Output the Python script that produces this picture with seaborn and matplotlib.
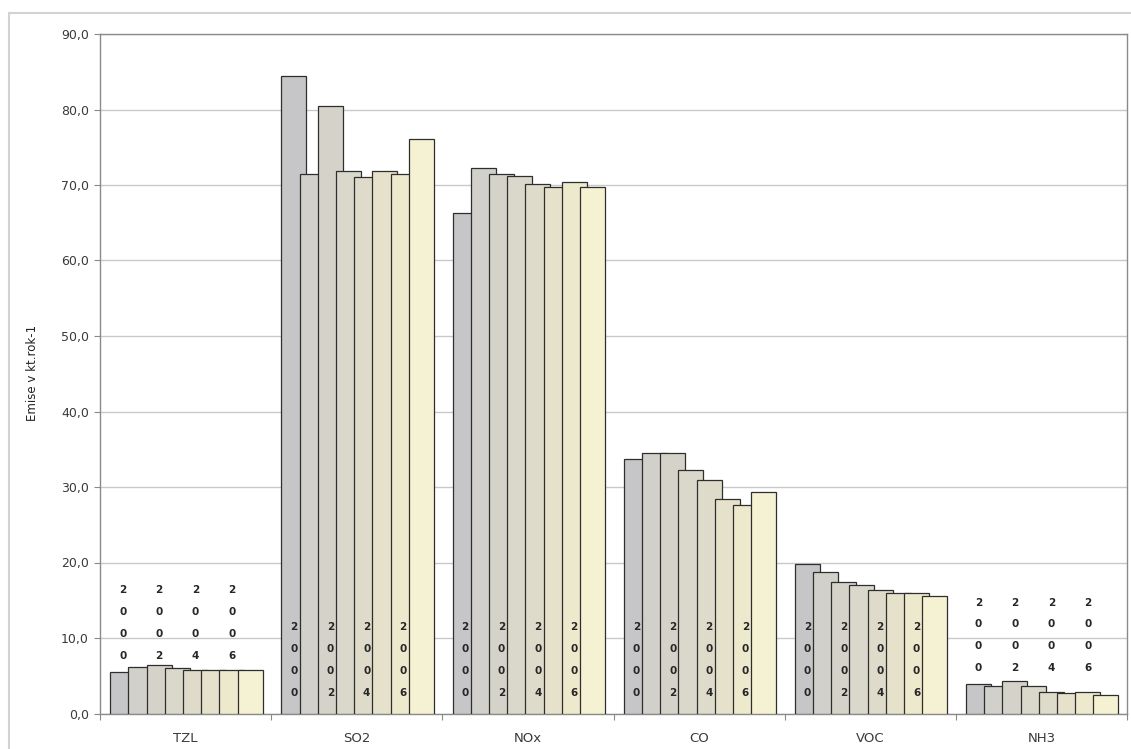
import numpy as np
import pandas as pd
import matplotlib
matplotlib.use("Agg")
import matplotlib.pyplot as plt
from matplotlib.lines import Line2D
import seaborn as sns

# Emissions by pollutant and year (kt per year)
pollutants = ["TZL", "SO2", "NOx", "CO", "VOC", "NH3"]
years = [2000, 2001, 2002, 2003, 2004, 2005, 2006, 2007]
tzl = [5.5, 6.1, 6.4, 6.0, 5.7, 5.8, 5.8, 5.8]
so2 = [84.4, 71.5, 80.5, 71.9, 71.1, 71.9, 71.5, 76.1]
nox = [66.3, 72.3, 71.5, 71.2, 70.1, 69.8, 70.4, 69.8]
co = [33.7, 34.5, 34.5, 32.3, 30.9, 28.4, 27.6, 29.4]
voc = [19.8, 18.8, 17.4, 17.0, 16.3, 16.0, 16.0, 15.6]
nh3 = [3.9, 3.6, 4.3, 3.6, 2.8, 2.7, 2.8, 2.5]
labelled_years = [2000, 2002, 2004, 2006]

year_colors = ["#c6c4c8", "#d3d1c9", "#d7d5c7", "#dcdac7",
               "#e1ddc7", "#e9e4c6", "#f2edc6", "#fbf7cd"]

series = [tzl, so2, nox, co, voc, nh3]
rows = []
for p, vals in zip(pollutants, series):
    for y, v in zip(years, vals):
        rows.append({"pollutant": p, "year": str(y), "value": v})
df = pd.DataFrame(rows)

sns.set_theme(style="white")
plt.rcParams["font.family"] = ["DejaVu Sans"]

W, H = 1131, 749
fig = plt.figure(figsize=(W / 100, H / 100), dpi=100)
ax = fig.add_axes([100 / W, 1 - 713.5 / H, (1127 - 100) / W, (713.5 - 34) / H])

sns.barplot(data=df, x="pollutant", y="value", hue="year",
            palette=year_colors, order=pollutants,
            hue_order=[str(y) for y in years],
            width=0.85, dodge=True, errorbar=None,
            edgecolor="#2e2e2e", linewidth=0.9, legend=False,
            zorder=3, ax=ax)

# widen bars so each one overlaps the next (later years in front)
bar_w = 0.146
for container in ax.containers:
    for patch in container:
        patch.set_x(patch.get_x() - 0.015)
        patch.set_width(bar_w)

# stacked year labels on every second bar; short groups get them above the bars
first_year = ax.containers[0]
for container, yr in zip(ax.containers, years):
    if yr not in labelled_years:
        continue
    txt = str(yr)
    for patch, ref in zip(container, first_year):
        v = ref.get_height()
        cx = patch.get_x() + patch.get_width() / 2
        base = 2.7 if v > 14 else v + 2.1
        for k, ch in enumerate(txt):
            ax.text(cx, base + (len(txt) - 1 - k) * 2.9, ch,
                    ha="center", va="center", fontsize=7.5,
                    fontweight="bold", color="#262626", zorder=5)

ax.set_xlim(-0.5, len(pollutants) - 0.5)
ax.set_ylim(0, 90)
yt = np.arange(0, 91, 10)
ax.set_yticks(yt)
ax.set_yticklabels([f"{v:.1f}".replace(".", ",") for v in yt])
ax.set_xticks(np.arange(-0.5, len(pollutants), 1), minor=True)

ax.grid(axis="y", color="#c9c9c9", linewidth=1.0, zorder=0)
ax.set_axisbelow(True)

for side, sp in ax.spines.items():
    sp.set_visible(True)
    sp.set_color("#8a8a8a")
    sp.set_linewidth(1.0)

ax.tick_params(axis="y", which="major", left=True, length=4, width=0.8,
               color="#8a8a8a", direction="out", pad=4,
               labelsize=9, labelcolor="#3a3a3a")
ax.tick_params(axis="x", which="major", length=0, pad=13,
               labelsize=9.5, labelcolor="#3a3a3a")
ax.tick_params(axis="x", which="minor", bottom=True, length=4, width=0.8,
               color="#8a8a8a", direction="out")

ax.set_xlabel("")
ax.set_ylabel("Emise v kt.rok-1", fontsize=8.5, color="#222222")
ax.yaxis.set_label_coords(39 / W, 1 - 373 / H, transform=fig.transFigure)

# outer chart frame
fig.add_artist(Line2D([9 / W, 9 / W], [0, 1 - 13 / H],
                      transform=fig.transFigure, color="#d2d2d2", lw=1.5))
fig.add_artist(Line2D([9 / W, 1], [1 - 13 / H, 1 - 13 / H],
                      transform=fig.transFigure, color="#d2d2d2", lw=1.5))

fig.savefig("out.png", dpi=100)
